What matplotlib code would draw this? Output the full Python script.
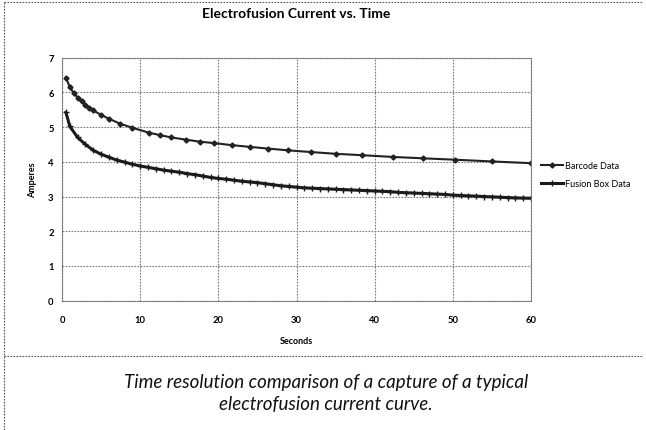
import matplotlib
matplotlib.use("Agg")
import matplotlib.pyplot as plt
from matplotlib.lines import Line2D

title = "Electrofusion Current vs. Time"
xlabel = "Seconds"
ylabel = "Amperes"
caption = "Time resolution comparison of a capture of a typical\nelectrofusion current curve."
series_names = ["Barcode Data", "Fusion Box Data"]
x_ticks = [0, 10, 20, 30, 40, 50, 60]
y_ticks = [0, 1, 2, 3, 4, 5, 6, 7]

barcode_t = [0.5, 1, 1.5, 2, 2.5, 3, 3.5, 4, 5, 6, 7.4, 9, 11.1, 12.5, 14, 15.8,
             17.6, 19.4, 21.7, 24, 26.4, 28.9, 31.9, 35, 38.4, 42.3, 46.2, 50.3, 55, 60]
barcode_a = [6.42, 6.15, 5.98, 5.85, 5.74, 5.64, 5.56, 5.48, 5.35, 5.24, 5.10, 4.98,
             4.84, 4.77, 4.70, 4.64, 4.58, 4.54, 4.48, 4.43, 4.38, 4.33, 4.28, 4.23,
             4.19, 4.14, 4.10, 4.06, 4.01, 3.96]

fusion_t = [0.5, 1, 2, 3, 4, 5, 6, 7, 8, 9, 10, 11, 12, 13, 14, 15, 16, 17, 18, 19,
            20, 21, 22, 23, 24, 25, 26, 27, 28, 29, 30, 31, 32, 33, 34, 35, 36, 37,
            38, 39, 40, 41, 42, 43, 44, 45, 46, 47, 48, 49, 50, 51, 52, 53, 54, 55,
            56, 57, 58, 59, 60]
fusion_a = [5.42, 5.02, 4.70, 4.50, 4.33, 4.22, 4.13, 4.05, 3.99, 3.93, 3.88, 3.84,
            3.80, 3.76, 3.73, 3.70, 3.66, 3.63, 3.59, 3.55, 3.52, 3.50, 3.47, 3.44,
            3.42, 3.40, 3.37, 3.34, 3.31, 3.29, 3.27, 3.25, 3.24, 3.23, 3.22, 3.21,
            3.20, 3.19, 3.18, 3.17, 3.16, 3.15, 3.14, 3.12, 3.11, 3.10, 3.09, 3.08,
            3.07, 3.06, 3.04, 3.03, 3.02, 3.01, 3.00, 2.99, 2.98, 2.97, 2.96, 2.955, 2.95]

fam = ["Lato", "DejaVu Sans"]

fig = plt.figure(figsize=(6.46, 4.31), dpi=100)
ax = fig.add_axes([0.096, 0.30, 0.726, 0.564])

ax.plot(barcode_t, barcode_a, color="#222222", lw=1.5, marker="D", ms=2.6,
        label=series_names[0])
ax.plot(fusion_t, fusion_a, color="#1a1a1a", lw=2.2, marker="+", ms=3.8, mew=1.0,
        label=series_names[1])

ax.set_xlim(0, 60)
ax.set_ylim(0, 7)
ax.set_xticks(x_ticks)
ax.set_yticks(y_ticks)
ax.set_xticklabels([str(v) for v in x_ticks], fontsize=6.8, fontweight="bold", family=fam)
ax.set_yticklabels([str(v) for v in y_ticks], fontsize=6.8, fontweight="bold", family=fam)
ax.tick_params(axis="x", length=0, pad=10)
ax.tick_params(axis="y", length=0, pad=6)
ax.grid(True, color="#777777", lw=0.8, ls=(0, (1.5, 1.2)))
for s in ax.spines.values():
    s.set_color("#777777")
    s.set_linestyle((0, (1.5, 1.2)))
    s.set_linewidth(0.8)

ax.set_title(title, fontsize=10, fontweight="bold", family=fam, pad=29)
ax.set_xlabel(xlabel, fontsize=6.5, fontweight="bold", family=fam, labelpad=9)
ax.set_ylabel(ylabel, fontsize=6.5, fontweight="bold", family=fam, labelpad=8)

leg = ax.legend(loc="center left", bbox_to_anchor=(1.005, 0.52), frameon=False,
                handlelength=2.4, handletextpad=0.2, labelspacing=1.0,
                prop={"family": fam, "size": 6.5})

# frame and separator lines of the scanned figure
fig.add_artist(Line2D([0.006, 0.995], [0.993, 0.993], transform=fig.transFigure,
                      color="#555555", lw=0.8, ls=(0, (1.5, 1.2))))
fig.add_artist(Line2D([0.006, 0.006], [0.0, 0.993], transform=fig.transFigure,
                      color="#555555", lw=0.8, ls=(0, (1.5, 1.2))))
fig.add_artist(Line2D([0.006, 0.995], [0.172, 0.172], transform=fig.transFigure,
                      color="#555555", lw=0.8, ls=(0, (1.5, 1.2))))

fig.text(0.505, 0.087, caption, ha="center", va="center", fontsize=13.5,
         style="italic", family=fam, color="#111111", linespacing=1.35)

fig.savefig("out.png", dpi=100)
